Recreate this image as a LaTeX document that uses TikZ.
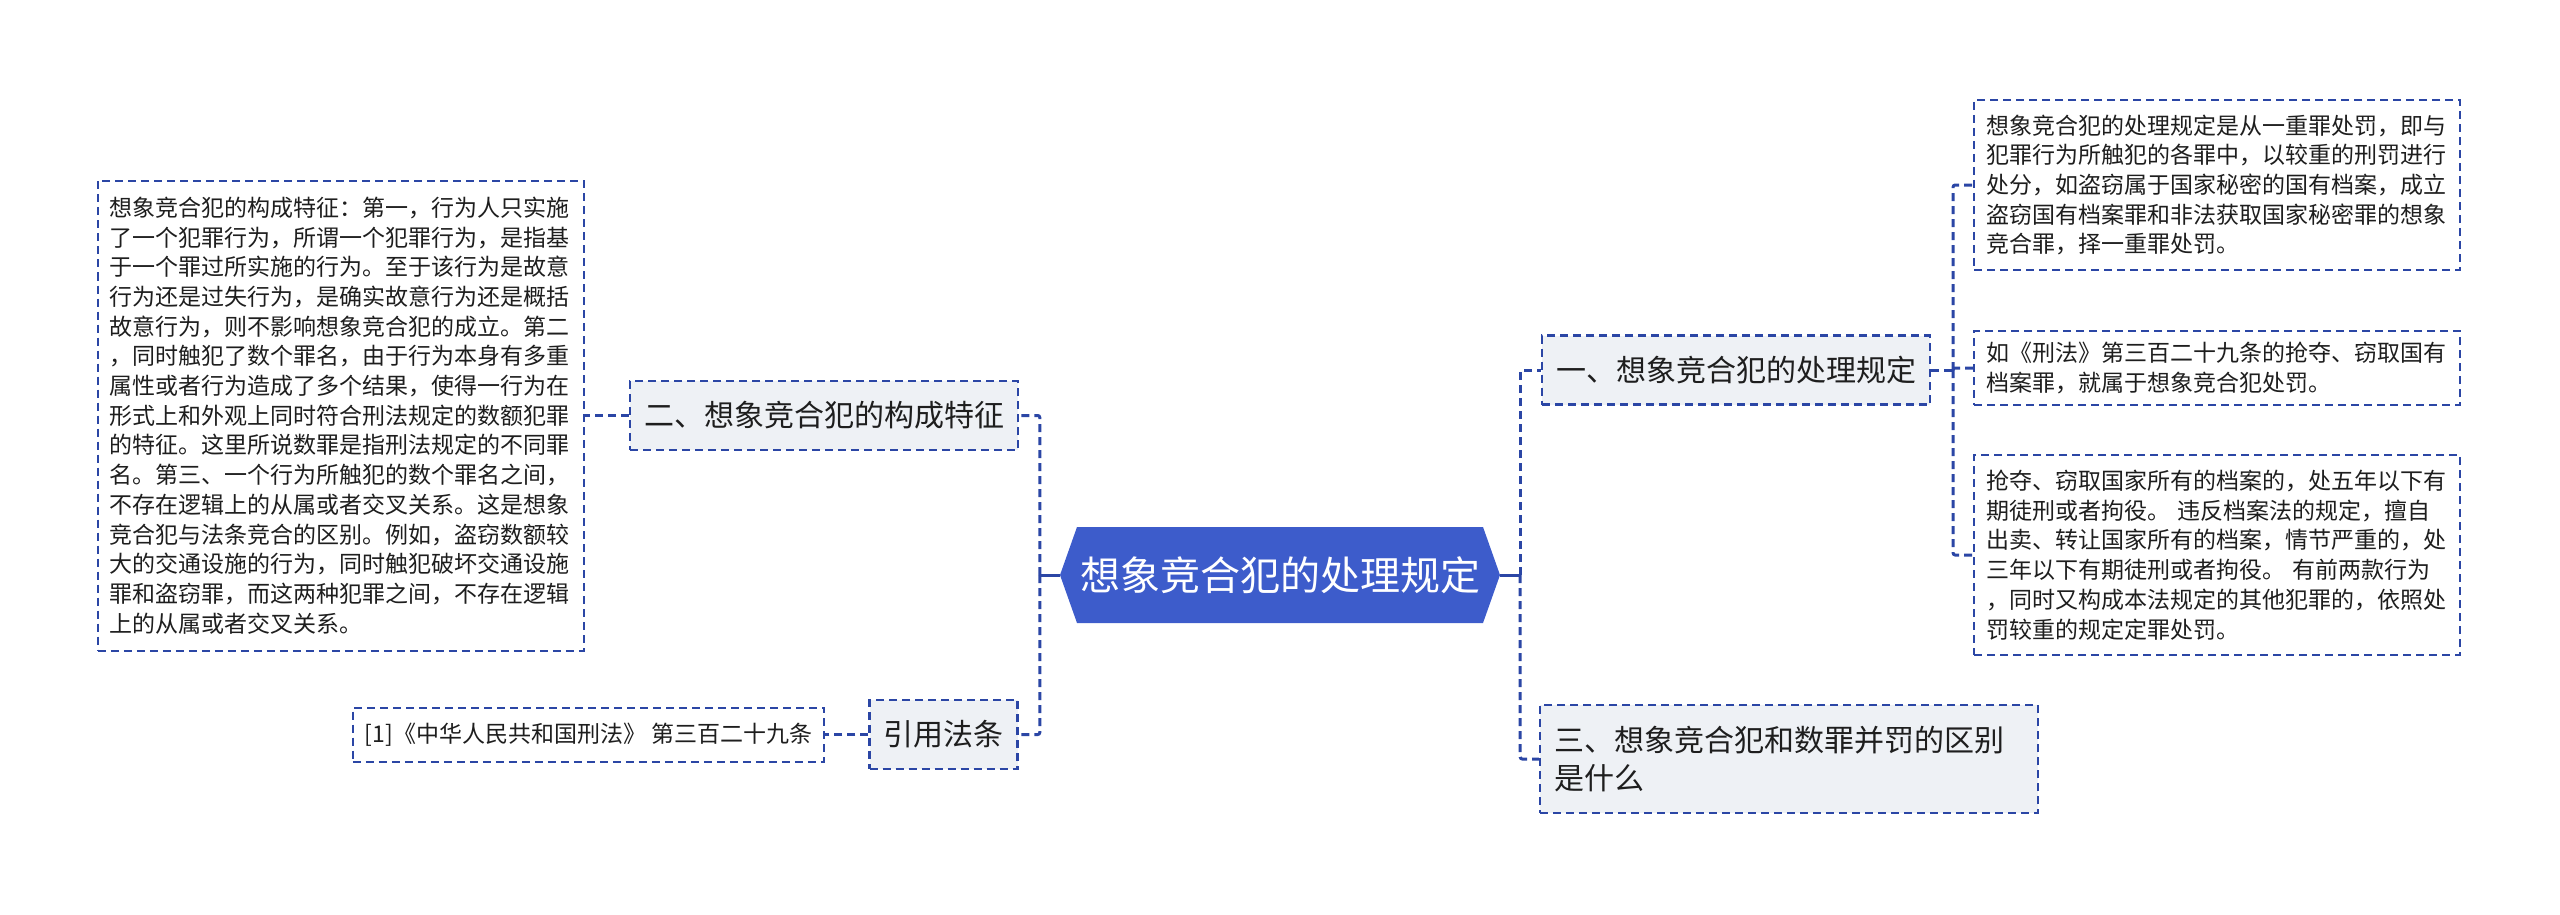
\documentclass[tikz,border=0pt]{standalone}
\usepackage{fontspec}
\newfontfamily\cjk{Noto Sans CJK SC}
\usetikzlibrary{positioning, shapes.symbols}

\definecolor{mapblue}{HTML}{3D5CCB}
\definecolor{linkblue}{HTML}{2B46A5}
\definecolor{branchfill}{HTML}{EEF1F5}
\definecolor{inkgray}{HTML}{1E1E1E}

\begin{document}
\begin{tikzpicture}[
    x=1pt, y=-1pt,
    root/.style={
        signal,
        signal to=west and east,
        signal pointer angle=141,
        fill=mapblue,
        text=white,
        font=\cjk\fontsize{40}{48}\selectfont,
        minimum width=440pt,
        minimum height=96pt,
        inner sep=0pt
    },
    branch/.style={
        rectangle,
        draw=linkblue,
        line width=2.2pt,
        dash pattern=on 8pt off 5pt,
        fill=branchfill,
        text=inkgray,
        font=\cjk\fontsize{30}{38}\selectfont,
        inner xsep=14pt,
        inner ysep=0pt,
        minimum height=69pt
    },
    leaf/.style={
        rectangle,
        draw=linkblue,
        line width=2pt,
        dash pattern=on 8pt off 5pt,
        fill=white,
        text=inkgray,
        font=\cjk\fontsize{23}{29.7}\selectfont,
        align=left,
        inner xsep=12pt,
        inner ysep=0pt
    },
    note/.style={leaf, text width=462pt},
    trunk/.style={draw=linkblue, line width=3pt},
    link/.style={draw=linkblue, line width=3pt, dash pattern=on 8pt off 5pt, rounded corners=2pt}
]
\useasboundingbox (0,0) rectangle (2560,915);

\node[root] (root) at (1280,575) {想象竞合犯的处理规定};

\node[branch] (rule) at (1736,370) {一、想象竞合犯的处理规定};
\node[branch] (trait) at (824,415.5) {二、想象竞合犯的构成特征};
\node[branch, align=left, text width=470pt, minimum height=108pt] (diff) at (1789,759) {三、想象竞合犯和数罪并罚的区别\\是什么};
\node[branch] (cite) at (943.5,734.5) {引用法条};

\node[leaf, left=43pt of cite, minimum height=54pt] (citetext) {[1]《中华人民共和国刑法》 第三百二十九条};
\node[note, left=44pt of trait, minimum height=470pt] (traittext) {想象竞合犯的构成特征：第一，行为人只实施\\了一个犯罪行为，所谓一个犯罪行为，是指基\\于一个罪过所实施的行为。至于该行为是故意\\行为还是过失行为，是确实故意行为还是概括\\故意行为，则不影响想象竞合犯的成立。第二\\，同时触犯了数个罪名，由于行为本身有多重\\属性或者行为造成了多个结果，使得一行为在\\形式上和外观上同时符合刑法规定的数额犯罪\\的特征。这里所说数罪是指刑法规定的不同罪\\名。第三、一个行为所触犯的数个罪名之间，\\不存在逻辑上的从属或者交叉关系。这是想象\\竞合犯与法条竞合的区别。例如，盗窃数额较\\大的交通设施的行为，同时触犯破坏交通设施\\罪和盗窃罪，而这两种犯罪之间，不存在逻辑\\上的从属或者交叉关系。};

\node[note, anchor=west, minimum height=170pt] (rule1) at (1973,185) {想象竞合犯的处理规定是从一重罪处罚，即与\\犯罪行为所触犯的各罪中，以较重的刑罚进行\\处分，如盗窃属于国家秘密的国有档案，成立\\盗窃国有档案罪和非法获取国家秘密罪的想象\\竞合罪，择一重罪处罚。};
\node[note, anchor=west, minimum height=74pt] (rule2) at (1973,368) {如《刑法》第三百二十九条的抢夺、窃取国有\\档案罪，就属于想象竞合犯处罚。};
\node[note, anchor=west, minimum height=200pt] (rule3) at (1973,555) {抢夺、窃取国家所有的档案的，处五年以下有\\期徒刑或者拘役。 违反档案法的规定，擅自\\出卖、转让国家所有的档案，情节严重的，处\\三年以下有期徒刑或者拘役。 有前两款行为\\，同时又构成本法规定的其他犯罪的，依照处\\罚较重的规定定罪处罚。};

% left side
\draw[trunk] (root.west) -- ++(-20,0) coordinate (lfork);
\draw[link] (lfork) |- (trait.east);
\draw[link] (lfork) |- (cite.east);
\draw[link] (trait.west) -- (traittext.east);
\draw[link] (cite.west) -- (citetext.east);

% right side
\draw[trunk] (root.east) -- ++(20,0) coordinate (rfork);
\draw[link] (rfork) |- (rule.west);
\draw[link] (rfork) |- (diff.west);
\draw[link] (rule.east) -- ++(22,0) coordinate (rulefork);
\draw[link] (rulefork) |- (rule1.west);
\draw[link] (rulefork) |- (rule2.west);
\draw[link] (rulefork) |- (rule3.west);

\end{tikzpicture}
\end{document}
